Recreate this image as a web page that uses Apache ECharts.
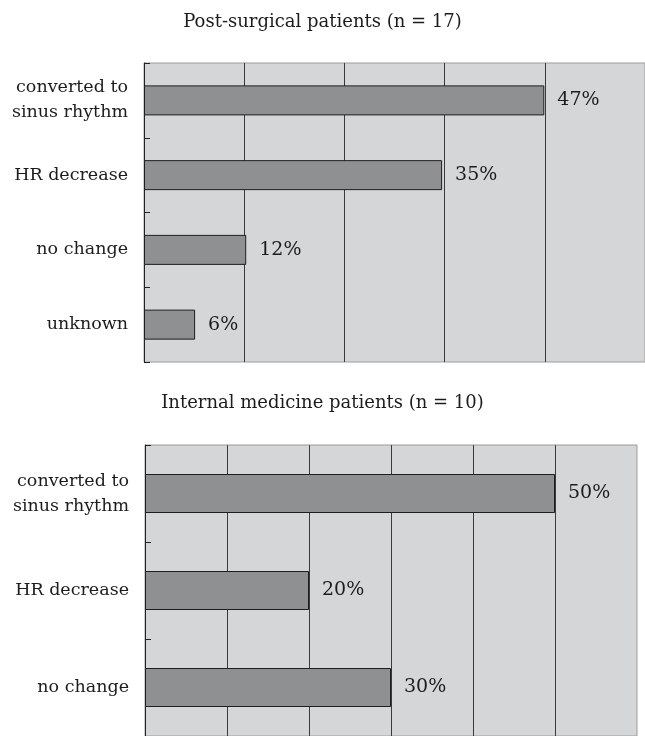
<!DOCTYPE html>
<html>
<head>
<meta charset="utf-8">
<title>Response by patient group</title>
<script src="https://cdn.jsdelivr.net/npm/echarts@6/dist/echarts.min.js"></script>
<style>
  html, body { margin: 0; padding: 0; background: #ffffff; }
  #chart { width: 645px; height: 736px; }
</style>
</head>
<body>
<div id="chart"></div>
<script>
// Post-surgical group
const surgicalTitle = 'Post-surgical patients (n = 17)';
const surgicalN = 17;
const surgicalCategories = ['converted to\nsinus rhythm', 'HR decrease', 'no change', 'unknown'];
const surgicalPercent = [47, 35, 12, 6];

// Internal medicine group
const medicineTitle = 'Internal medicine patients (n = 10)';
const medicineN = 10;
const medicineCategories = ['converted to\nsinus rhythm', 'HR decrease', 'no change'];
const medicinePercent = [50, 20, 30];

// Axis extent in patients; gridlines every `step` patients, shown as percent of n
const surgicalAxisPatients = 10, surgicalStepPatients = 2;
const medicineAxisPatients = 6, medicineStepPatients = 1;

const FONT = 'DejaVu Serif';
const INK = '#1c1c1c';

function pct(patients, n) { return patients / n * 100; }

function valueAxis(gridIndex, n, maxPatients, stepPatients) {
  return {
    type: 'value',
    gridIndex: gridIndex,
    min: 0,
    max: pct(maxPatients, n),
    interval: pct(stepPatients, n),
    axisLine: { show: false },
    axisTick: { show: false },
    axisLabel: { show: false },
    splitLine: {
      show: true,
      showMinLine: false,
      showMaxLine: false,
      lineStyle: { color: '#3a3a3a', width: 1 }
    }
  };
}

function categoryAxis(gridIndex, cats) {
  return {
    type: 'category',
    gridIndex: gridIndex,
    data: cats,
    inverse: true,
    axisLine: { show: true, lineStyle: { color: '#222222', width: 1 } },
    axisTick: { show: true, inside: true, length: 6, lineStyle: { color: '#222222' } },
    axisLabel: {
      margin: 16,
      color: INK,
      fontFamily: FONT,
      fontSize: 17.5,
      lineHeight: 25,
      align: 'right'
    },
    splitLine: { show: false }
  };
}

function barSeries(axisIndex, values, barWidth) {
  return {
    type: 'bar',
    xAxisIndex: axisIndex,
    yAxisIndex: axisIndex,
    data: values,
    barWidth: barWidth,
    itemStyle: { color: '#8f9092', borderColor: '#1e1e1e', borderWidth: 1 },
    label: {
      show: true,
      position: 'right',
      distance: 13,
      formatter: '{c}%',
      color: INK,
      fontFamily: FONT,
      fontSize: 19
    },
    silent: true,
    animation: false
  };
}

const chart = echarts.init(document.getElementById('chart'), null, { renderer: 'canvas' });

chart.setOption({
  backgroundColor: '#ffffff',
  animation: false,
  title: [
    {
      text: surgicalTitle,
      left: 'center',
      top: 13,
      padding: 0,
      textStyle: { fontFamily: FONT, fontSize: 18, fontWeight: 'normal', color: INK }
    },
    {
      text: medicineTitle,
      left: 'center',
      top: 394,
      padding: 0,
      textStyle: { fontFamily: FONT, fontSize: 18, fontWeight: 'normal', color: INK }
    }
  ],
  grid: [
    {
      left: 144, top: 63, width: 503, height: 299,
      show: true, backgroundColor: '#d5d6d8', borderColor: '#9c9c9c', borderWidth: 1
    },
    {
      left: 145, top: 445, width: 492, height: 297,
      show: true, backgroundColor: '#d5d6d8', borderColor: '#9c9c9c', borderWidth: 1
    }
  ],
  xAxis: [
    valueAxis(0, surgicalN, surgicalAxisPatients, surgicalStepPatients),
    valueAxis(1, medicineN, medicineAxisPatients, medicineStepPatients)
  ],
  yAxis: [
    categoryAxis(0, surgicalCategories),
    categoryAxis(1, medicineCategories)
  ],
  series: [
    barSeries(0, surgicalPercent, 30),
    barSeries(1, medicinePercent, 39)
  ]
});
</script>
</body>
</html>
